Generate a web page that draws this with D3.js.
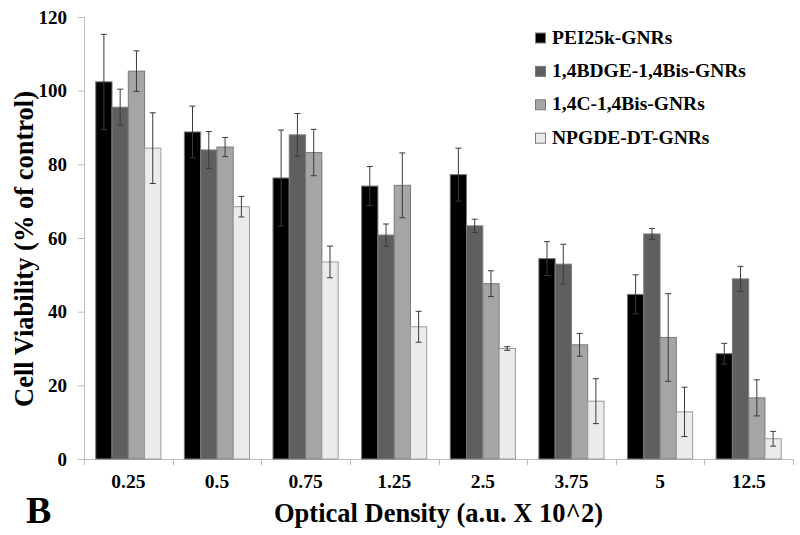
<!DOCTYPE html>
<html>
<head>
<meta charset="utf-8">
<script src="https://cdn.jsdelivr.net/npm/d3@7"></script>
<style>
  html, body { margin: 0; padding: 0; background: #fff; }
  svg { display: block; }
  text { font-family: "Liberation Serif", "Times New Roman", serif; font-weight: bold; fill: #000; }
</style>
</head>
<body>
<svg id="chart" width="800" height="535"></svg>
<script>
const categories = ["0.25", "0.5", "0.75", "1.25", "2.5", "3.75", "5", "12.5"];
const seriesNames = ["PEI25k-GNRs", "1,4BDGE-1,4Bis-GNRs", "1,4C-1,4Bis-GNRs", "NPGDE-DT-GNRs"];
const seriesColors = ["#000000", "#5f5f5f", "#a5a5a5", "#ebebeb"];

const pei = [102.4, 88.8, 76.3, 74.1, 77.2, 54.4, 44.7, 28.6];
const peiErr = [12.9, 7.0, 13.0, 5.3, 7.2, 4.6, 5.3, 2.8];
const bdge = [95.5, 83.9, 88.0, 60.8, 63.3, 52.9, 61.1, 48.9];
const bdgeErr = [4.9, 5.0, 5.8, 3.0, 1.8, 5.4, 1.5, 3.4];
const c14 = [105.3, 84.7, 83.2, 74.3, 47.6, 31.0, 33.0, 16.6];
const c14Err = [5.5, 2.6, 6.3, 8.8, 3.5, 3.1, 11.9, 4.9];
const npgde = [84.4, 68.5, 53.5, 35.9, 30.0, 15.7, 12.8, 5.5];
const npgdeErr = [9.6, 2.8, 4.3, 4.2, 0.5, 6.1, 6.7, 2.0];

const yTicks = [0, 20, 40, 60, 80, 100, 120];

const values = [pei, bdge, c14, npgde];
const errors = [peiErr, bdgeErr, c14Err, npgdeErr];

const data = [];
categories.forEach((c, i) => {
  seriesNames.forEach((s, j) => {
    data.push({ cat: c, series: s, idx: j, value: values[j][i], err: errors[j][i] });
  });
});

const svg = d3.select("#chart");
const mLeft = 84, mRight = 793, mTop = 17, mBottom = 459;

const x = d3.scaleBand().domain(categories).range([mLeft, mRight]).paddingInner(0).paddingOuter(0);
const x1 = d3.scaleBand().domain(seriesNames).range([0, x.bandwidth()]).paddingInner(0).paddingOuter(0.72);
const y = d3.scaleLinear().domain([0, 120]).range([mBottom, mTop]);
const color = d3.scaleOrdinal().domain(seriesNames).range(seriesColors);

// axes
const axisColor = "#bdbdbd";
const yAxis = svg.append("g").attr("transform", `translate(${mLeft},0)`)
  .call(d3.axisLeft(y).tickValues(yTicks).tickSize(6).tickPadding(11));
yAxis.select(".domain").attr("stroke", axisColor);
yAxis.selectAll(".tick line").attr("stroke", axisColor);
yAxis.selectAll(".tick text").style("font-size", "19px").attr("font-family", null);

const xAxisG = svg.append("g").attr("transform", `translate(0,${mBottom})`);
xAxisG.append("line").attr("x1", mLeft).attr("x2", mRight).attr("y1", 0.5).attr("y2", 0.5).attr("stroke", axisColor);
const boundaries = categories.map(c => x(c)).concat([mRight]);
xAxisG.selectAll("line.tk").data(boundaries).enter().append("line")
  .attr("class", "tk")
  .attr("x1", d => Math.round(d) + 0.5).attr("x2", d => Math.round(d) + 0.5)
  .attr("y1", 0).attr("y2", 6).attr("stroke", axisColor);
xAxisG.selectAll("text.cat").data(categories).enter().append("text")
  .attr("class", "cat")
  .attr("x", d => x(d) + x.bandwidth() / 2)
  .attr("y", 29)
  .attr("text-anchor", "middle")
  .style("font-size", "19.5px")
  .text(d => d);

// bars
svg.append("g").selectAll("rect").data(data).enter().append("rect")
  .attr("x", d => x(d.cat) + x1(d.series))
  .attr("y", d => y(d.value))
  .attr("width", x1.bandwidth())
  .attr("height", d => y(0) - y(d.value))
  .attr("fill", d => color(d.series))
  .attr("stroke", d => d.idx === 3 ? "#9a9a9a" : "#7a7a7a")
  .attr("stroke-width", 1);

// error bars
const eb = svg.append("g").attr("stroke", "#3a3a3a").attr("stroke-width", 1).attr("fill", "none");
data.forEach(d => {
  const cx = x(d.cat) + x1(d.series) + x1.bandwidth() / 2;
  const y1 = y(d.value + d.err), y2 = y(Math.max(0, d.value - d.err));
  eb.append("line").attr("x1", cx).attr("x2", cx).attr("y1", y1).attr("y2", y2);
  eb.append("line").attr("x1", cx - 3).attr("x2", cx + 3).attr("y1", y1).attr("y2", y1);
  eb.append("line").attr("x1", cx - 3).attr("x2", cx + 3).attr("y1", y2).attr("y2", y2);
});

// legend
const legend = svg.append("g");
seriesNames.forEach((s, i) => {
  const by = 43.5 + i * 33.4;
  legend.append("rect").attr("x", 535.5).attr("y", by - 10.5).attr("width", 10).attr("height", 10)
    .attr("fill", seriesColors[i]).attr("stroke", "#7a7a7a").attr("stroke-width", 1);
  legend.append("text").attr("x", 552).attr("y", by).style("font-size", "19.5px").text(s);
});

// axis titles
svg.append("text").attr("x", (mLeft + mRight) / 2).attr("y", 522).attr("text-anchor", "middle")
  .style("font-size", "26.5px").text("Optical Density (a.u. X 10^2)");
svg.append("text").attr("transform", `translate(33,249) rotate(-90)`).attr("text-anchor", "middle")
  .style("font-size", "26.5px").text("Cell Viability (% of control)");
svg.append("text").attr("x", 26).attr("y", 523).style("font-size", "38px").text("B");
</script>
</body>
</html>
